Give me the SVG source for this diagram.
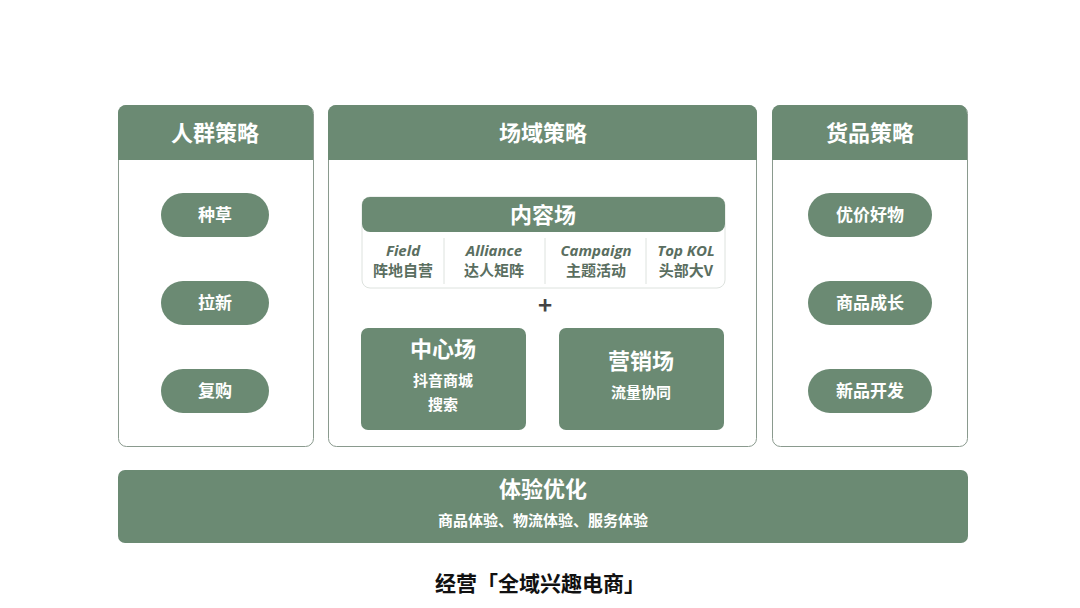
<svg xmlns="http://www.w3.org/2000/svg" width="1080" height="608" viewBox="0 0 1080 608">
<style>
.g{fill:#6b8a73}
.panel{fill:#fff;stroke:#8a9a8e;stroke-width:1}
text{font-family:"Noto Sans CJK SC","Noto Sans",sans-serif;font-weight:bold;text-anchor:middle}
.w{fill:#fff}
.h{font-size:22px}
.p{font-size:17px}
.s{font-size:15px}
.c{fill:#5a6e60;font-size:15px}
.ci{fill:#5a6e60;font-size:15px;font-style:italic;font-family:"Open Sans","Noto Sans",sans-serif}
</style>
<rect width="1080" height="608" fill="#fff"/>
<g id="left">
<rect class="panel" x="118.5" y="105.5" width="195" height="341" rx="8"/>
<path class="g" d="M118 113a8 8 0 0 1 8-8h179a8 8 0 0 1 8 8v47h-195z"/>
<text class="w h" x="215" y="141">人群策略</text>
<rect class="g" x="161" y="193" width="108" height="44" rx="22"/><text class="w p" x="215" y="221">种草</text>
<rect class="g" x="161" y="281" width="108" height="44" rx="22"/><text class="w p" x="215" y="309">拉新</text>
<rect class="g" x="161" y="369" width="108" height="44" rx="22"/><text class="w p" x="215" y="397">复购</text>
</g>
<g id="middle">
<rect class="panel" x="328.5" y="105.5" width="428" height="341" rx="8"/>
<path class="g" d="M328 113a8 8 0 0 1 8-8h413a8 8 0 0 1 8 8v47h-429z"/>
<text class="w h" x="543" y="141">场域策略</text>
</g>
<g id="content">
<rect x="362" y="197" width="363" height="91" rx="8" fill="#fff" stroke="#dde2de"/>
<rect class="g" x="362" y="197" width="363" height="35" rx="8"/>
<text class="w h" x="543" y="223">内容场</text>
<g stroke="#dde2de"><line x1="444" y1="238" x2="444" y2="284"/><line x1="545" y1="238" x2="545" y2="284"/><line x1="646" y1="238" x2="646" y2="284"/></g>
<text class="ci" x="403" y="256">Field</text><text class="c" x="403" y="276">阵地自营</text>
<text class="ci" x="494" y="256">Alliance</text><text class="c" x="494" y="276">达人矩阵</text>
<text class="ci" x="596" y="256">Campaign</text><text class="c" x="596" y="276">主题活动</text>
<text class="ci" x="686" y="256">Top KOL</text><text class="c" x="686" y="276">头部大V</text>
</g>
<text x="545" y="314" font-size="24" fill="#444">+</text>
<g id="center">
<rect class="g" x="361" y="328" width="165" height="102" rx="7"/>
<text class="w h" x="443" y="357">中心场</text>
<text class="w s" x="443" y="386">抖音商城</text>
<text class="w s" x="443" y="410">搜索</text>
</g>
<g id="marketing">
<rect class="g" x="559" y="328" width="165" height="102" rx="7"/>
<text class="w h" x="641" y="369">营销场</text>
<text class="w s" x="641" y="398">流量协同</text>
</g>
<g id="right">
<rect class="panel" x="772.5" y="105.5" width="195" height="341" rx="8"/>
<path class="g" d="M772 113a8 8 0 0 1 8-8h179a8 8 0 0 1 8 8v47h-195z"/>
<text class="w h" x="870" y="141">货品策略</text>
<rect class="g" x="808" y="193" width="124" height="44" rx="22"/><text class="w p" x="870" y="221">优价好物</text>
<rect class="g" x="808" y="281" width="124" height="44" rx="22"/><text class="w p" x="870" y="309">商品成长</text>
<rect class="g" x="808" y="369" width="124" height="44" rx="22"/><text class="w p" x="870" y="397">新品开发</text>
</g>
<g id="bottom">
<rect class="g" x="118" y="470" width="850" height="73" rx="7"/>
<text class="w h" x="543" y="497">体验优化</text>
<text class="w s" x="543" y="526">商品体验、物流体验、服务体验</text>
</g>
<text x="540" y="591" font-size="21" fill="#111">经营「全域兴趣电商」</text>
<g id="connectors"/>
</svg>
